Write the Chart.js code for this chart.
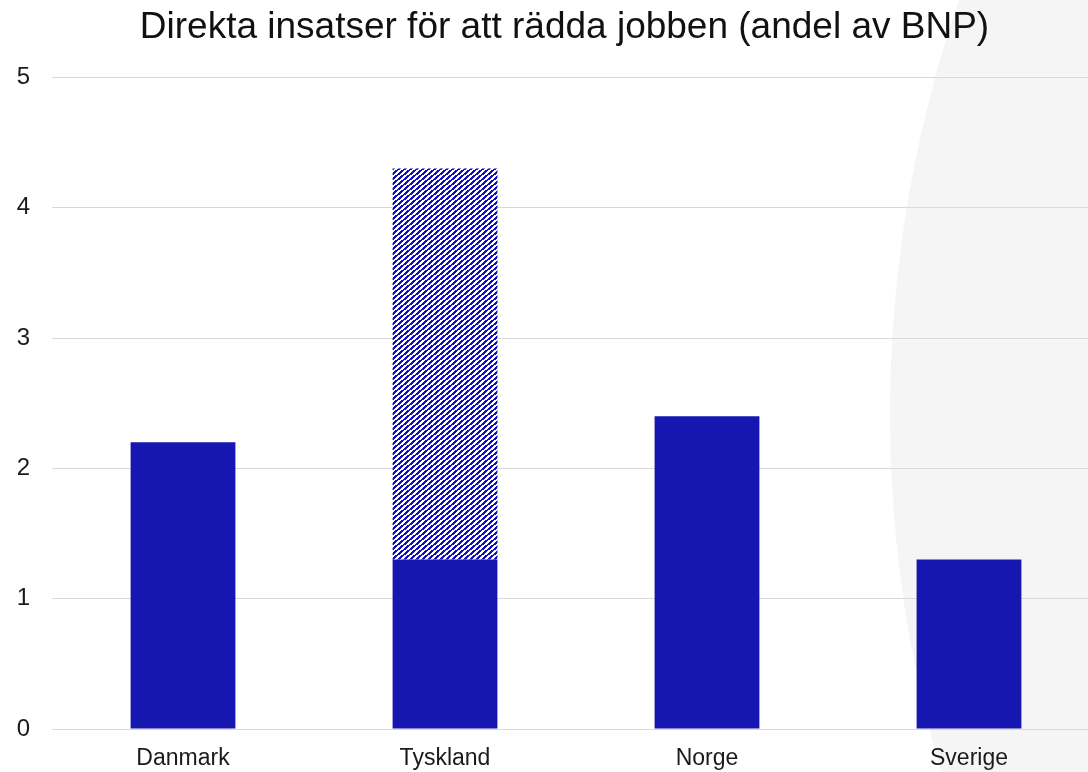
<!DOCTYPE html>
<html>
<head>
<meta charset="utf-8">
<script src="https://cdn.jsdelivr.net/npm/chart.js@4"></script>
<style>
  html, body { margin: 0; padding: 0; width: 1088px; height: 772px; overflow: hidden; background: #ffffff; }
  #wrap { position: absolute; left: 0; top: 0; width: 1100px; height: 772px; }
</style>
</head>
<body>
<div id="wrap"><canvas id="c" width="1100" height="772"></canvas></div>
<script>
const titleText = "Direkta insatser för att rädda jobben (andel av BNP)";
const categories = ["Danmark", "Tyskland", "Norge", "Sverige"];
const directValues = [2.2, 1.3, 2.4, 1.3];
const extraValues = [null, 3.0, null, null];
const yTicks = [0, 1, 2, 3, 4, 5];

const blue = "#1616B0";

function makeHatch() {
  const w = 6, h = 5;
  const c = document.createElement("canvas");
  c.width = w; c.height = h;
  const g = c.getContext("2d");
  g.fillStyle = "#ffffff";
  g.fillRect(0, 0, w, h);
  g.fillStyle = "#1010C0";
  for (let x = 0; x < w; x++) {
    for (let y = 0; y < h; y++) {
      const f = ((x + 0.5) / w + (y + 0.5) / h) % 1;
      if (f < 0.5) g.fillRect(x, y, 1, 1);
    }
  }
  return document.getElementById("c").getContext("2d").createPattern(c, "repeat");
}

const bgCircle = {
  id: "bgCircle",
  beforeDraw(chart) {
    const ctx = chart.ctx;
    ctx.save();
    ctx.fillStyle = "#f5f5f5";
    ctx.beginPath();
    ctx.arc(2169, 414, 1279, 0, Math.PI * 2);
    ctx.fill();
    ctx.restore();
  }
};

const titleShift = {
  id: "titleShift",
  afterLayout(chart) {
    if (chart.titleBlock) {
      chart.titleBlock.left += 7;
      chart.titleBlock.right += 7;
    }
  }
};

const font = "'Liberation Sans', Arial, Helvetica, sans-serif";

new Chart(document.getElementById("c"), {
  type: "bar",
  data: {
    labels: categories,
    datasets: [
      { label: "Direkt", data: directValues, backgroundColor: blue, borderWidth: 0,
        barPercentage: 0.4, categoryPercentage: 1.0 },
      { label: "Övrigt", data: extraValues, backgroundColor: makeHatch(), borderWidth: 0,
        barPercentage: 0.4, categoryPercentage: 1.0 }
    ]
  },
  options: {
    responsive: false,
    animation: false,
    devicePixelRatio: 1,
    layout: { padding: { left: 15, right: 0, top: 0, bottom: 0 } },
    plugins: {
      legend: { display: false },
      tooltip: { enabled: false },
      title: {
        display: true,
        text: titleText,
        color: "#111111",
        font: { family: font, size: 37, weight: "normal" },
        padding: { top: 6, bottom: 27 }
      }
    },
    scales: {
      x: {
        stacked: true,
        afterFit(axis) { axis.height = 43; },
        grid: { display: false, drawTicks: false },
        border: { display: true, color: "#d9d9d9", width: 1 },
        ticks: { color: "#1a1a1a", font: { family: font, size: 23 }, padding: 16 }
      },
      y: {
        stacked: true,
        min: 0,
        max: 5,
        afterFit(axis) { axis.width = 37; },
        afterBuildTicks(axis) { axis.ticks = yTicks.map(v => ({ value: v })); },
        grid: { color: "#d9d9d9", lineWidth: 1, drawTicks: false },
        border: { display: false },
        ticks: { color: "#1a1a1a", font: { family: font, size: 24 }, padding: 22 }
      }
    }
  },
  plugins: [bgCircle, titleShift]
});
</script>
</body>
</html>
